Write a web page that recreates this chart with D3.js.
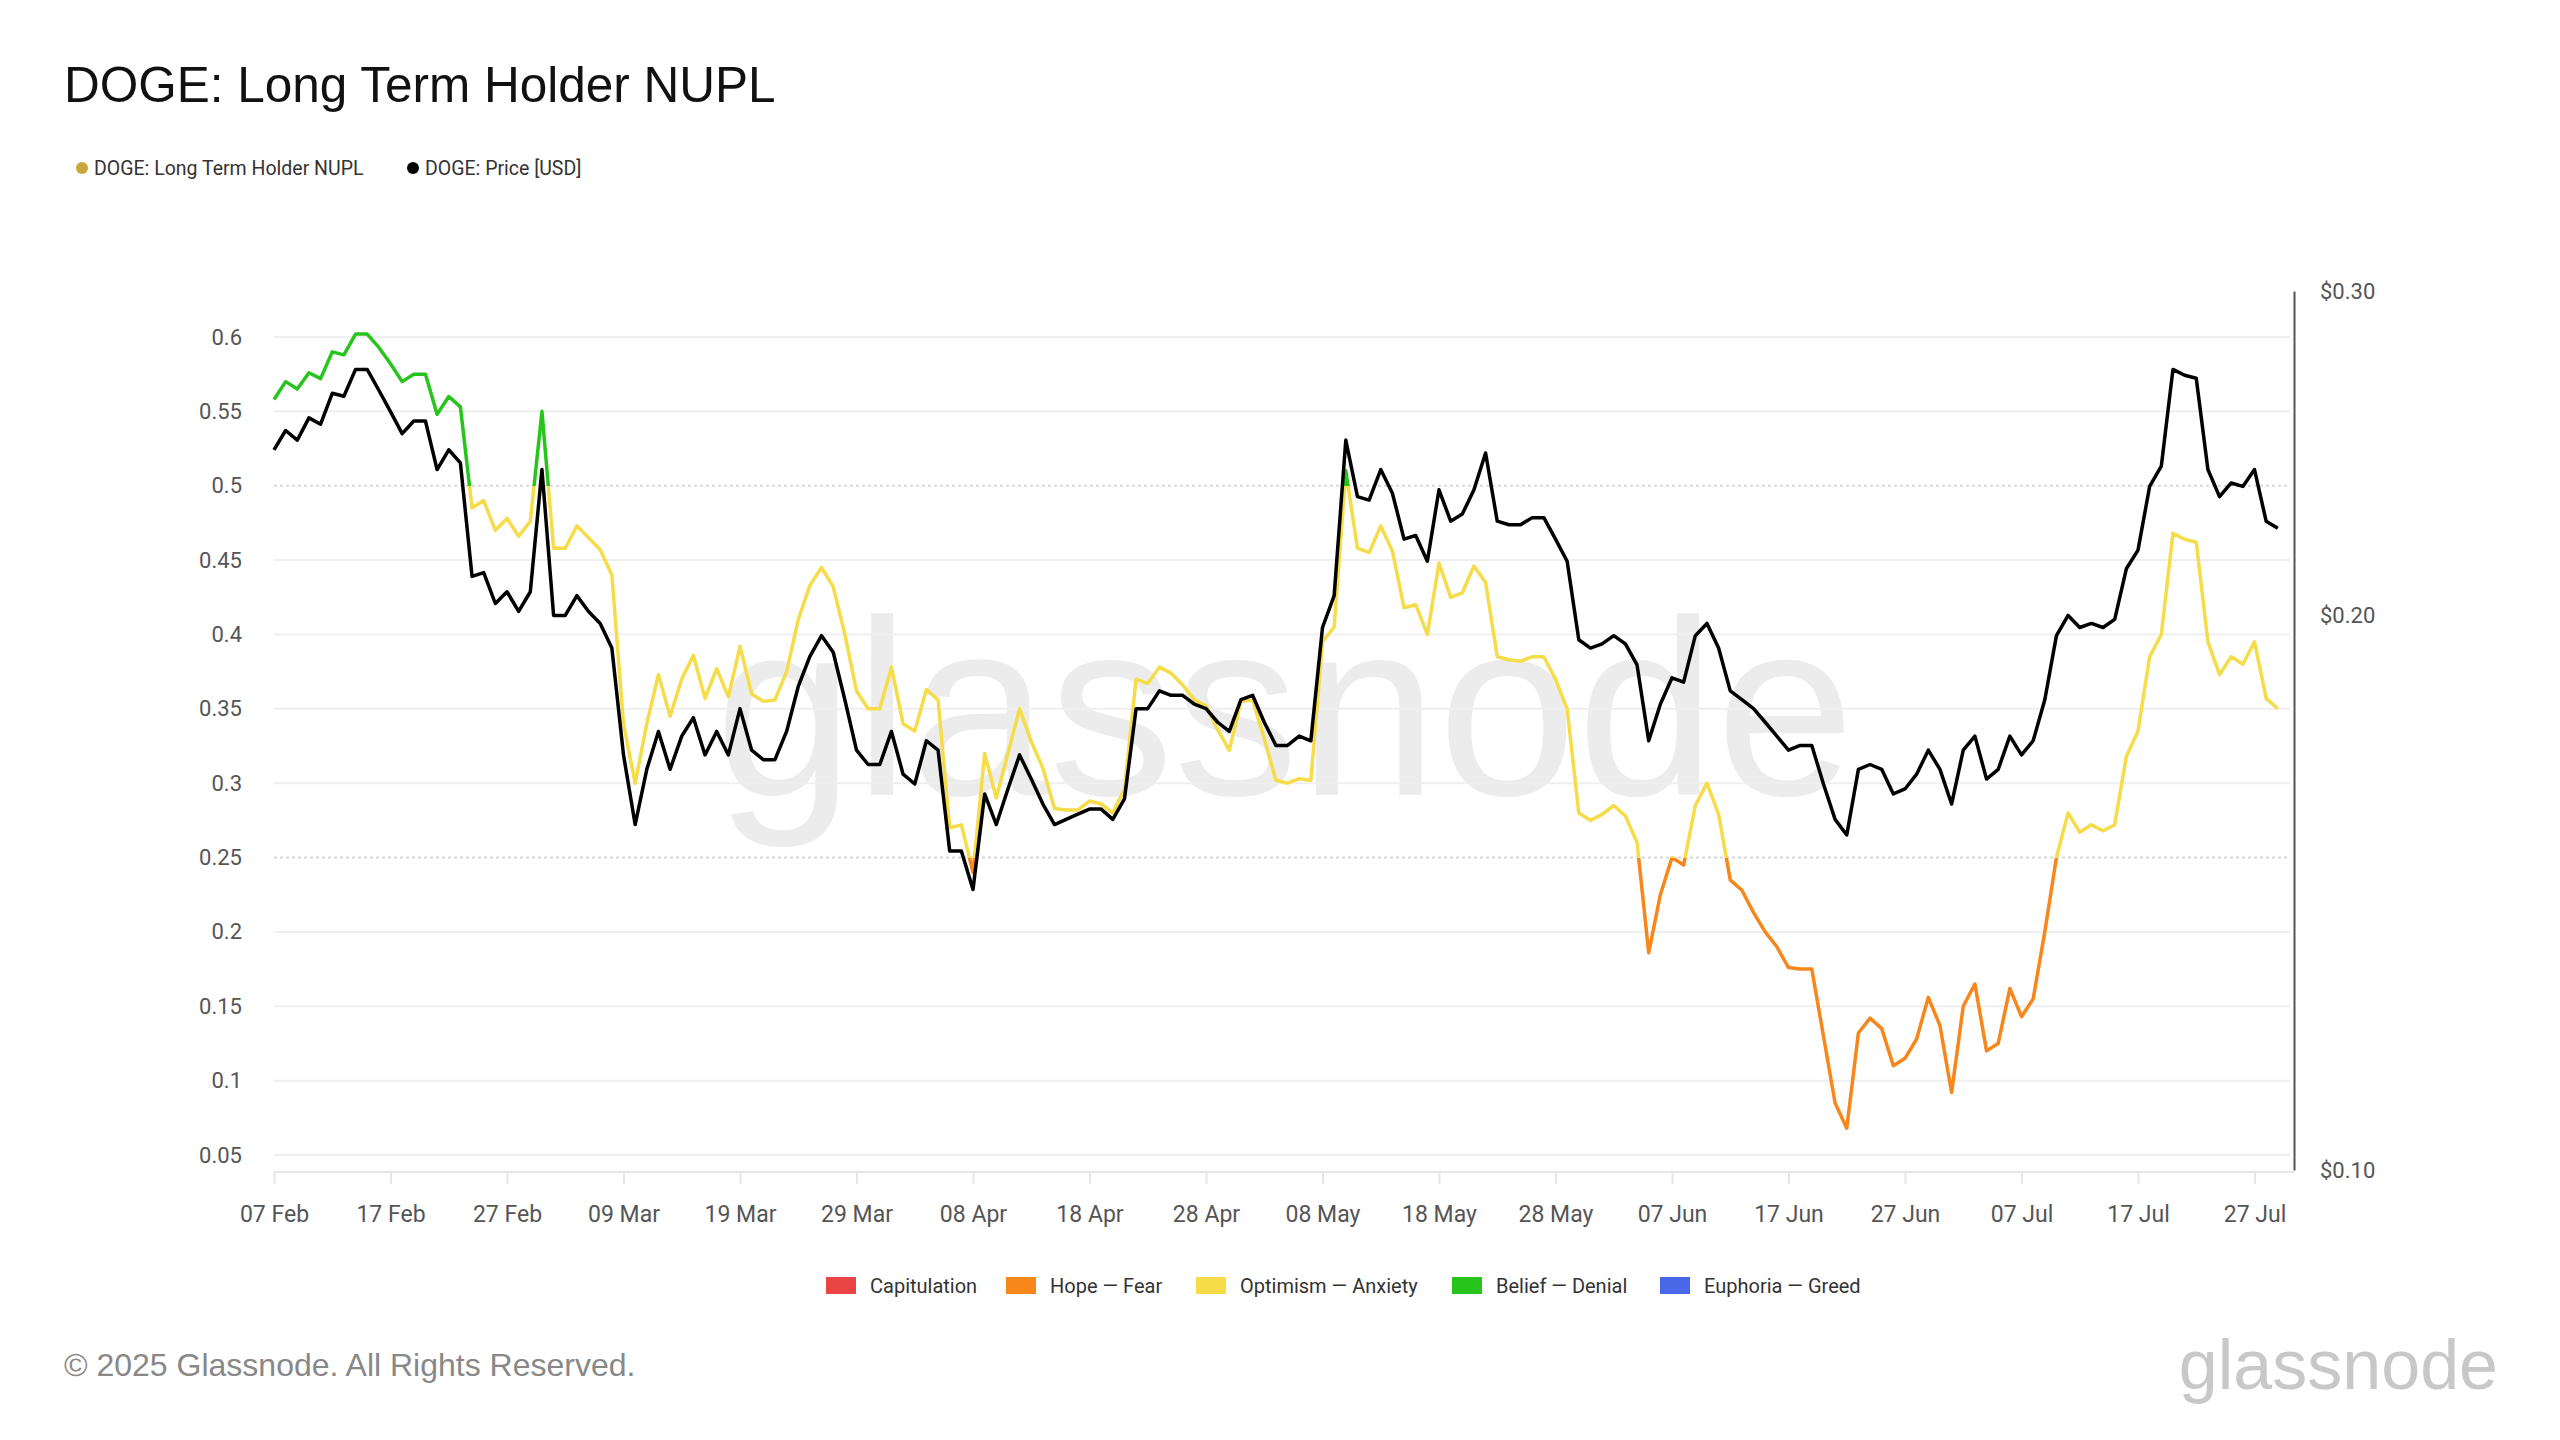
<!DOCTYPE html>
<html><head><meta charset="utf-8">
<script src="https://cdn.jsdelivr.net/npm/d3@7"></script>
<style>body{margin:0;background:#fff}svg{display:block}</style>
</head><body>
<script>
const startDate = "2025-02-07";
const nuplFeb=[0.558,0.57,0.565,0.576,0.572,0.59,0.588,0.602,0.602,0.593,0.582,0.57,0.575,0.575,0.548,0.56,0.553,0.485,0.49,0.47,0.478,0.466];
const nuplMar=[0.476,0.55,0.458,0.458,0.473,0.465,0.457,0.44,0.34,0.3,0.34,0.373,0.345,0.37,0.386,0.357,0.377,0.358,0.392,0.36,0.355,0.356,0.375,0.41,0.433,0.445,0.432,0.4,0.362,0.35,0.35];
const nuplApr=[0.378,0.34,0.335,0.363,0.356,0.27,0.272,0.24,0.32,0.29,0.32,0.35,0.328,0.31,0.283,0.282,0.282,0.288,0.286,0.28,0.296,0.37,0.367,0.378,0.374,0.366,0.356,0.352,0.336,0.322];
const nuplMay=[0.355,0.356,0.33,0.302,0.3,0.303,0.302,0.395,0.405,0.51,0.458,0.455,0.473,0.456,0.418,0.42,0.4,0.448,0.425,0.428,0.446,0.435,0.385,0.383,0.382,0.385,0.385,0.37,0.35,0.28,0.275];
const nuplJun=[0.279,0.285,0.278,0.26,0.186,0.225,0.25,0.245,0.285,0.3,0.279,0.235,0.228,0.213,0.2,0.19,0.176,0.175,0.175,0.13,0.085,0.068,0.132,0.142,0.135,0.11,0.115,0.128,0.156,0.137];
const nuplJul=[0.092,0.15,0.165,0.12,0.125,0.162,0.143,0.155,0.2,0.25,0.28,0.267,0.272,0.268,0.272,0.318,0.335,0.385,0.4,0.468,0.464,0.462,0.395,0.373,0.385,0.38,0.395,0.357,0.35];
const priceFeb=[0.246,0.252,0.249,0.256,0.254,0.264,0.263,0.272,0.272,0.265,0.258,0.251,0.255,0.255,0.240,0.246,0.242,0.210,0.211,0.203,0.206,0.201];
const priceMar=[0.206,0.240,0.200,0.200,0.205,0.201,0.198,0.192,0.168,0.154,0.165,0.173,0.165,0.172,0.176,0.168,0.173,0.168,0.178,0.169,0.167,0.167,0.173,0.183,0.190,0.195,0.191,0.180,0.169,0.166,0.166];
const priceApr=[0.173,0.164,0.162,0.171,0.169,0.149,0.149,0.142,0.160,0.154,0.161,0.168,0.163,0.158,0.154,0.155,0.156,0.157,0.157,0.155,0.159,0.178,0.178,0.182,0.181,0.181,0.179,0.178,0.175,0.173];
const priceMay=[0.180,0.181,0.175,0.170,0.170,0.172,0.171,0.197,0.205,0.249,0.232,0.231,0.240,0.233,0.220,0.221,0.214,0.234,0.225,0.227,0.234,0.245,0.225,0.224,0.224,0.226,0.226,0.220,0.214,0.194,0.192];
const priceJun=[0.193,0.195,0.193,0.188,0.171,0.179,0.185,0.184,0.195,0.198,0.192,0.182,0.180,0.178,0.175,0.172,0.169,0.170,0.170,0.162,0.155,0.152,0.165,0.166,0.165,0.160,0.161,0.164,0.169,0.165];
const priceJul=[0.158,0.169,0.172,0.163,0.165,0.172,0.168,0.171,0.180,0.195,0.200,0.197,0.198,0.197,0.199,0.212,0.217,0.235,0.241,0.272,0.270,0.269,0.240,0.232,0.236,0.235,0.240,0.225,0.223];
const leftTicks=[0.05,0.1,0.15,0.2,0.25,0.3,0.35,0.4,0.45,0.5,0.55,0.6];
const rightTicks=[0.10,0.20,0.30];
const zoneNames=["Capitulation","Hope — Fear","Optimism — Anxiety","Belief — Denial","Euphoria — Greed"];
const zoneColors=["#ea4545","#f7861b","#f6dc48","#27c51c","#4868e8"];

const nupl=[].concat(nuplFeb,nuplMar,nuplApr,nuplMay,nuplJun,nuplJul);
const price=[].concat(priceFeb,priceMar,priceApr,priceMay,priceJun,priceJul);
const t0=d3.utcParse("%Y-%m-%d")(startDate);
const dates=nupl.map((_,i)=>d3.utcDay.offset(t0,i));

const W=2560,H=1440;
const svg=d3.select("body").append("svg").attr("width",W).attr("height",H);
const font="'Liberation Sans', Arial, sans-serif";
const X0=274, XR=2294;
const x=d3.scaleUtc().domain([t0,d3.utcDay.offset(t0,172)]).range([X0,X0+172*11.65]);
const yL=d3.scaleLinear().domain([0.05,0.6]).range([1155,337]);
const yR=d3.scaleLog().domain([0.10,0.30]).range([1170,291]);

// watermark
svg.append("text").attr("x",1285).attr("y",795).attr("text-anchor","middle")
 .attr("font-family",font).attr("font-size",250).attr("fill","#000").attr("opacity",0.07).text("glassnode");

// grid
svg.append("g").selectAll("line").data(leftTicks).join("line")
 .attr("x1",X0).attr("x2",XR-4).attr("y1",d=>yL(d)).attr("y2",d=>yL(d))
 .attr("stroke",d=>(d===0.25||d===0.5)?"#d8d8d8":"#efefef").attr("stroke-width",2)
 .attr("stroke-dasharray",d=>(d===0.25||d===0.5)?"3,3":null);

// left axis
const gl=svg.append("g").attr("transform","translate(262,0)")
 .call(d3.axisLeft(yL).tickValues(leftTicks).tickSize(0).tickPadding(20).tickFormat(d3.format("")));
gl.select(".domain").remove();
gl.selectAll("text").attr("font-family","Roboto, sans-serif").attr("font-size",22).attr("fill","#555");

// right axis
const gr=svg.append("g").attr("transform",`translate(${XR},0)`)
 .call(d3.axisRight(yR).tickValues(rightTicks).tickSize(0).tickPadding(26).tickFormat(d=>"$"+d.toFixed(2)));
gr.select(".domain").attr("stroke","#555").attr("stroke-width",2);
gr.selectAll("text").attr("font-family","Roboto, sans-serif").attr("font-size",22).attr("fill","#555");

// bottom axis
const xt=d3.range(0,172,10).map(i=>d3.utcDay.offset(t0,i));
const gb=svg.append("g").attr("transform","translate(0,1172)")
 .call(d3.axisBottom(x).tickValues(xt).tickSize(12).tickPadding(22).tickFormat(d3.utcFormat("%d %b")));
gb.select(".domain").attr("d",`M${X0},0H${XR}`).attr("stroke","#e6e6e6").attr("stroke-width",2);
gb.selectAll(".tick line").attr("stroke","#e6e6e6").attr("stroke-width",2);
gb.selectAll("text").attr("font-family","Roboto, sans-serif").attr("font-size",23).attr("fill","#555");

// zone gradient
const defs=svg.append("defs");
const grad=defs.append("linearGradient").attr("id","zg").attr("gradientUnits","userSpaceOnUse")
 .attr("x1",0).attr("x2",0).attr("y1",yL(1)).attr("y2",yL(-0.25));
const stops=[];
const lims=[1,0.75,0.5,0.25,0,-0.25];
const cols=[zoneColors[4],zoneColors[3],zoneColors[2],zoneColors[1],zoneColors[0]];
for(let i=0;i<5;i++){
  const o1=(yL(lims[i])-yL(1))/(yL(-0.25)-yL(1)), o2=(yL(lims[i+1])-yL(1))/(yL(-0.25)-yL(1));
  stops.push([o1,cols[i]],[o2,cols[i]]);
}
grad.selectAll("stop").data(stops).join("stop").attr("offset",d=>d[0]).attr("stop-color",d=>d[1]);

svg.append("path").datum(nupl).attr("fill","none").attr("stroke","url(#zg)").attr("stroke-width",3.5)
 .attr("stroke-linejoin","round")
 .attr("d",d3.line().x((d,i)=>x(dates[i])).y(d=>yL(d)));
svg.append("path").datum(price).attr("fill","none").attr("stroke","#000").attr("stroke-width",3.5)
 .attr("stroke-linejoin","round")
 .attr("d",d3.line().x((d,i)=>x(dates[i])).y(d=>yR(d)));

// title
svg.append("text").attr("x",64).attr("y",102).attr("font-family",font).attr("font-size",49.5).attr("fill","#111").text("DOGE: Long Term Holder NUPL");
// top legend
const tl=[{n:"DOGE: Long Term Holder NUPL",c:"#c8a83a",x:82},{n:"DOGE: Price [USD]",c:"#000",x:413}];
const tg=svg.append("g").selectAll("g").data(tl).join("g");
tg.append("circle").attr("cx",d=>d.x).attr("cy",168).attr("r",6).attr("fill",d=>d.c);
tg.append("text").attr("x",d=>d.x+12).attr("y",175).attr("font-family","Roboto, sans-serif").attr("font-size",19.5).attr("fill","#333").text(d=>d.n);
// bottom legend
const bx=[826,1006,1196,1452,1660];
const bg=svg.append("g").selectAll("g").data(zoneNames).join("g");
bg.append("rect").attr("x",(d,i)=>bx[i]).attr("y",1277).attr("width",30).attr("height",17).attr("fill",(d,i)=>zoneColors[i]);
bg.append("text").attr("x",(d,i)=>bx[i]+44).attr("y",1293).attr("font-family","Roboto, sans-serif").attr("font-size",20).attr("fill","#333").text(d=>d);
// footer
svg.append("text").attr("x",64).attr("y",1376).attr("font-family",font).attr("font-size",32).attr("fill","#888").text("© 2025 Glassnode. All Rights Reserved.");
svg.append("text").attr("x",2498).attr("y",1389).attr("text-anchor","end").attr("font-family",font).attr("font-size",70).attr("fill","#c8c8c8").text("glassnode");
</script>
</body></html>
